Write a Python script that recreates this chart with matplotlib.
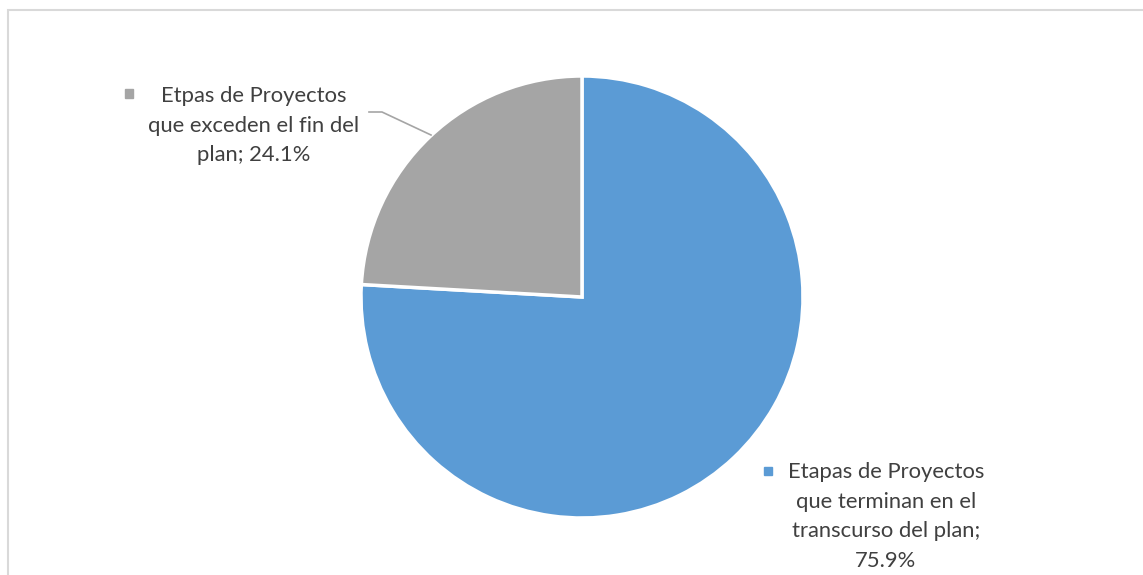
import matplotlib
matplotlib.use("Agg")
import matplotlib.pyplot as plt
from matplotlib.patches import Rectangle

# Shares of project stages
categories = ["Etapas de Proyectos que terminan en el transcurso del plan",
              "Etpas de Proyectos que exceden el fin del plan"]
values = [75.9, 24.1]
colors = ["#5B9BD5", "#A5A5A5"]

W, H = 1143, 575
fig = plt.figure(figsize=(W / 100, H / 100), dpi=100)
ax = fig.add_axes([0, 0, 1, 1])

cx, cy, r = 582, H - 297, 221
ax.pie(values, colors=colors, startangle=90, counterclock=False,
       center=(cx, cy), radius=r, frame=True,
       wedgeprops=dict(edgecolor="white", linewidth=2.5))
ax.set_xlim(0, W)
ax.set_ylim(0, H)
ax.set_aspect("equal")
ax.axis("off")

# Chart frame
ax.add_patch(Rectangle((7.5, -20), W + 20, H - 9.5 + 20, fill=False,
                       edgecolor="#D9D9D9", linewidth=1.5))

txt_color = "#404040"
font = dict(family="Lato", size=15.8, color=txt_color)


def draw_label(lines, xc, baselines):
    for line, yb in zip(lines, baselines):
        ax.text(xc, H - yb, line, ha="center", va="baseline", **font)


# Blue slice label
blue_lines = ["Etapas de Proyectos", "que terminan en el",
              "transcurso del plan;", f"{values[0]:.1f}%"]
draw_label(blue_lines, 886, [478, 508, 537, 567])
ax.add_patch(Rectangle((763.5, H - 475), 8.5, 8.5, color=colors[0]))

# Gray slice label
gray_lines = ["Etpas de Proyectos", "que exceden el fin del",
              f"plan; {values[1]:.1f}%"]
draw_label(gray_lines, 254, [102, 132, 161])
ax.add_patch(Rectangle((124.5, H - 97.5), 8.5, 8.5, color=colors[1]))

# Leader line for the gray label
ax.plot([369, 382, 431], [H - 112, H - 112, H - 135], color="#A5A5A5",
        linewidth=1.2)

fig.savefig("out.png", dpi=100)
